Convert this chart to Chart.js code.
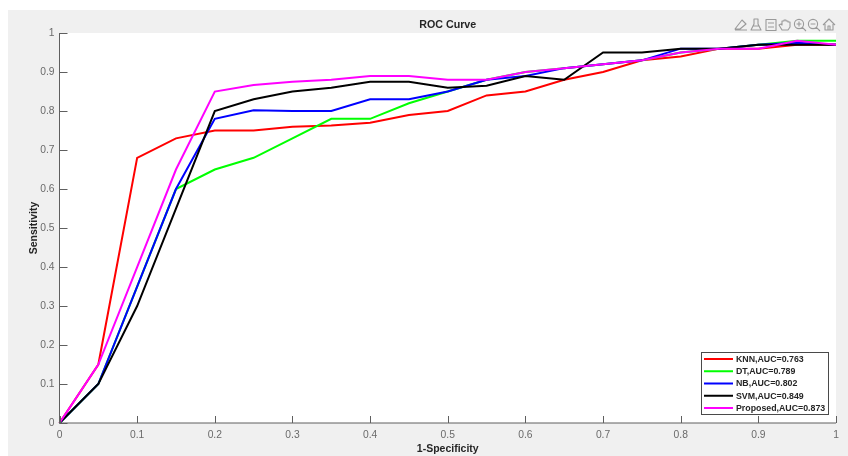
<!DOCTYPE html>
<html>
<head>
<meta charset="utf-8">
<style>html,body{margin:0;padding:0;background:#fff}canvas{display:block;filter:blur(0.35px)}</style>
<script src="https://cdn.jsdelivr.net/npm/chart.js@4"></script>
</head>
<body>
<canvas id="c" width="848" height="456"></canvas>
<script>
const fpr = [0,0.05,0.1,0.15,0.2,0.25,0.3,0.35,0.4,0.45,0.5,0.55,0.6,0.65,0.7,0.75,0.8,0.85,0.9,0.95,1];
const knn = [0,0.15,0.68,0.73,0.75,0.75,0.76,0.763,0.77,0.79,0.80,0.84,0.85,0.88,0.90,0.93,0.94,0.96,0.96,0.97,0.97];
const dt = [0,0.10,0.35,0.60,0.65,0.68,0.73,0.78,0.78,0.82,0.85,0.88,0.90,0.91,0.92,0.93,0.95,0.96,0.97,0.98,0.98];
const nb = [0,0.10,0.35,0.60,0.78,0.802,0.80,0.80,0.83,0.83,0.85,0.88,0.89,0.91,0.92,0.93,0.96,0.96,0.97,0.975,0.97];
const svm = [0,0.10,0.30,0.55,0.80,0.83,0.85,0.86,0.875,0.875,0.86,0.865,0.89,0.88,0.95,0.95,0.96,0.96,0.97,0.97,0.97];
const proposed = [0,0.15,0.40,0.65,0.85,0.867,0.875,0.88,0.89,0.89,0.88,0.88,0.90,0.91,0.92,0.93,0.95,0.96,0.96,0.98,0.97];
const seriesNames = ['KNN,AUC=0.763','DT,AUC=0.789','NB,AUC=0.802','SVM,AUC=0.849','Proposed,AUC=0.873'];
const seriesColors = ['#ff0000','#00ff00','#0000ff','#000000','#ff00ff'];
const seriesValues = [knn,dt,nb,svm,proposed];

const FONT = '"Liberation Sans", Arial, sans-serif';
const GRAY = '#5f5f5f';
const tickText = v => String(Math.round(v*10)/10);

const backdrop = {
  id:'backdrop',
  beforeDraw(chart){
    const {ctx,chartArea:a} = chart;
    ctx.save();
    ctx.fillStyle='#f0f0f0';
    ctx.fillRect(8,10,840,446);
    ctx.fillStyle='#fff';
    ctx.fillRect(a.left,a.top,a.right-a.left,a.bottom-a.top);
    ctx.restore();
  },
  afterDatasetsDraw(chart){
    const {ctx,chartArea:a,scales:{x,y}} = chart;
    ctx.save();
    ctx.strokeStyle=GRAY; ctx.lineWidth=1;
    ctx.beginPath();
    ctx.moveTo(a.left,a.top); ctx.lineTo(a.left,a.bottom); ctx.lineTo(a.right,a.bottom);
    x.ticks.forEach(t=>{const p=Math.round(x.getPixelForValue(t.value))+.5;ctx.moveTo(p,a.bottom);ctx.lineTo(p,a.bottom-7);});
    y.ticks.forEach(t=>{const p=Math.round(y.getPixelForValue(t.value))+.5;ctx.moveTo(a.left,p);ctx.lineTo(a.left+8,p);});
    ctx.stroke();
    ctx.restore();
  }
};

const boxLegend = {
  id:'boxLegend',
  afterDraw(chart){
    const {ctx} = chart;
    const L=701,T=352,W=127,H=62;
    ctx.save();
    ctx.fillStyle='#fff'; ctx.fillRect(L,T,W,H);
    ctx.strokeStyle='#4a4a4a'; ctx.lineWidth=1; ctx.strokeRect(L+.5,T+.5,W,H);
    ctx.font='bold 8.8px '+FONT; ctx.textBaseline='middle'; ctx.textAlign='left';
    chart.data.datasets.forEach((d,i)=>{
      const yy=T+7+i*12.25;
      ctx.strokeStyle=d.borderColor; ctx.lineWidth=2;
      ctx.beginPath(); ctx.moveTo(704,yy); ctx.lineTo(733,yy); ctx.stroke();
      ctx.fillStyle='#262626'; ctx.fillText(d.label,736,yy+.5);
    });
    ctx.restore();
  }
};

const toolbar = {
  id:'toolbar',
  afterDraw(chart){
    const c=chart.ctx;
    c.save();
    c.strokeStyle='#9a9a9a'; c.lineWidth=1.1; c.lineJoin='round';
    const lens=(cx,cy,plus)=>{
      c.beginPath(); c.arc(cx,cy-1,4.6,0,Math.PI*2);
      c.moveTo(cx+3.4,cy+2.4); c.lineTo(cx+7,cy+6);
      c.moveTo(cx-2.4,cy-1); c.lineTo(cx+2.4,cy-1);
      if(plus){c.moveTo(cx,cy-3.4); c.lineTo(cx,cy+1.4);}
      c.stroke();
    };
    c.beginPath(); c.moveTo(735,29); c.lineTo(742,20); c.lineTo(746,24); c.lineTo(740,29); c.closePath();
    c.moveTo(735,30); c.lineTo(747,30); c.stroke();
    c.beginPath(); c.moveTo(754,19); c.lineTo(754,24); c.lineTo(751,30); c.lineTo(761,30); c.lineTo(758,24); c.lineTo(758,19); c.closePath();
    c.moveTo(753,26); c.lineTo(759,26); c.stroke();
    c.strokeRect(766,19.5,10,11);
    c.beginPath(); c.moveTo(768,23); c.lineTo(774,23); c.moveTo(768,27); c.lineTo(774,27); c.stroke();
    c.beginPath(); c.moveTo(782,30); c.lineTo(779,25); c.lineTo(781,24); c.lineTo(782,25); c.lineTo(782,21); c.lineTo(784,21);
    c.lineTo(784,20); c.lineTo(786,20); c.lineTo(786,21); c.lineTo(788,21); c.lineTo(788,22); c.lineTo(790,22); c.lineTo(790,27); c.lineTo(788,30); c.closePath(); c.stroke();
    lens(799,25,true);
    lens(813,25,false);
    c.beginPath(); c.moveTo(823,25); c.lineTo(829,19); c.lineTo(835,25);
    c.moveTo(825,24); c.lineTo(825,30); c.lineTo(833,30); c.lineTo(833,24);
    c.moveTo(828,30); c.lineTo(828,26); c.lineTo(830,26); c.lineTo(830,30); c.stroke();
    c.restore();
  }
};

new Chart(document.getElementById('c'),{
  type:'line',
  data:{
    datasets:seriesNames.map((name,i)=>({
      label:name,
      data:fpr.map((f,j)=>({x:f,y:seriesValues[i][j]})),
      borderColor:seriesColors[i],
      backgroundColor:seriesColors[i],
      borderWidth:2,
      pointRadius:0,
      tension:0,
      fill:false,
      clip:false,
      order:seriesNames.length-i
    }))
  },
  options:{
    responsive:false,
    animation:false,
    devicePixelRatio:1,
    layout:{padding:{left:0,right:12,top:0,bottom:0}},
    plugins:{
      legend:{display:false},
      tooltip:{enabled:false},
      title:{display:true,text:'ROC Curve',fullSize:false,color:'#262626',
        font:{family:FONT,size:10.7,weight:'bold'},padding:{top:18.5,bottom:1.7}}
    },
    scales:{
      x:{type:'linear',min:0,max:1,
        afterFit(s){s.height=33;},
        border:{display:false},
        grid:{display:false,drawTicks:false},
        ticks:{stepSize:0.1,color:'#6a6a6a',font:{family:FONT,size:10.3},padding:6,maxRotation:0,autoSkip:false,callback:tickText},
        title:{display:true,text:'1-Specificity',color:'#262626',font:{family:FONT,size:10.5,weight:'bold'},padding:{top:0,bottom:1}}
      },
      y:{type:'linear',min:0,max:1,
        afterFit(s){s.width=59.5;},
        border:{display:false},
        grid:{display:false,drawTicks:false},
        ticks:{stepSize:0.1,color:'#6a6a6a',font:{family:FONT,size:10.3},padding:5,autoSkip:false,callback:tickText},
        title:{display:true,text:'Sensitivity',color:'#262626',font:{family:FONT,size:10.5,weight:'bold'},padding:{top:28,bottom:0}}
      }
    }
  },
  plugins:[backdrop,boxLegend,toolbar]
});
</script>
</body>
</html>
